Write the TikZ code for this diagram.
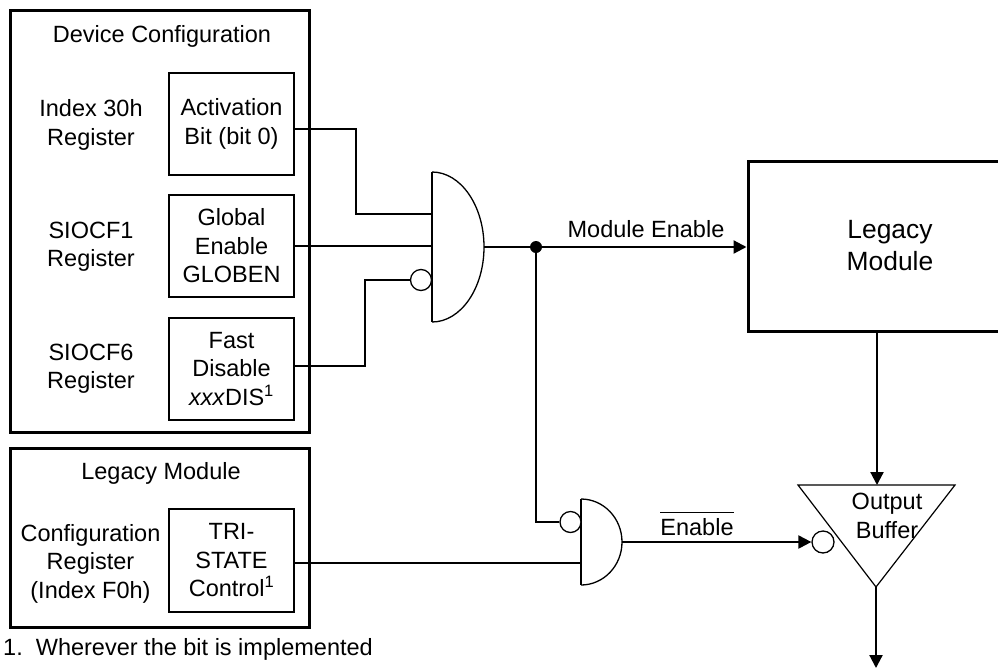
\documentclass[tikz,border=0pt]{standalone}
\usepackage{fontspec}
\setmainfont{Liberation Sans}
\usetikzlibrary{arrows.meta}
\begin{document}
\begin{tikzpicture}[x=1pt,y=-1pt,
  every node/.style={font=\fontsize{23.5}{28.5}\selectfont, inner sep=0pt, align=center},
  outerbox/.style={draw, line width=3pt},
  innerbox/.style={draw, line width=2pt},
  wire/.style={line width=2.2pt},
  gateline/.style={line width=1.3pt},
  gateedge/.style={line width=2.2pt},
  arr/.style={-{Triangle[length=13pt,width=13pt]}},
  bubble/.style={circle, draw, line width=1.3pt, minimum size=21pt, inner sep=0pt, fill=white},
  dotnode/.style={circle, fill, minimum size=12pt, inner sep=0pt},
]
\useasboundingbox (0,0) rectangle (998,670);
\clip (0,0) rectangle (998,670);

% Device configuration block
\node[outerbox, minimum width=299pt, minimum height=422pt] (devcfg) at (159.5,221) {};
\node (devtitle) at (162,36) {Device Configuration};
\node[innerbox, minimum width=125pt, minimum height=102pt] (act) at (231.5,124) {Activation\\Bit (bit 0)};
\node[innerbox, minimum width=125pt, minimum height=102pt] (glob) at (231.5,246) {Global\\Enable\\GLOBEN};
\node[innerbox, minimum width=125pt, minimum height=102pt] (fast) at (231.5,369) {Fast\\Disable\\\textit{xxx}DIS\textsuperscript{1}};
\node (lab1) at (91,125) {Index 30h\\Register};
\node (lab2) at (91,246.5) {SIOCF1\\Register};
\node (lab3) at (91,368.5) {SIOCF6\\Register};

% Legacy module config block
\node[outerbox, minimum width=299pt, minimum height=179pt] (legcfg) at (159.5,537.5) {};
\node (legtitle) at (161,473) {Legacy Module};
\node[innerbox, minimum width=125pt, minimum height=103pt] (tri) at (231.5,560.5) {TRI-\\STATE\\Control\textsuperscript{1}};
\node (lab4) at (90.5,563.5) {Configuration\\Register\\(Index F0h)};

% Legacy module (right)
\node[outerbox, minimum width=284pt, minimum height=170pt,
      font=\fontsize{26.4}{32}\selectfont] (leg) at (890,246) {Legacy\\Module};

% AND gate 1
\coordinate (g1t) at (432,172);
\coordinate (g1b) at (432,322);
\coordinate (g1o) at (484,247);
\draw[gateedge] (g1t) -- (g1b);
\draw[gateline] (g1t) .. controls (460.7,172) and (484,205.6) .. (g1o)
                      .. controls (484,288.4) and (460.7,322) .. (g1b);
\node[bubble] (b1) at (421,280) {};

% inputs of gate 1
\coordinate (j1) at (356,214);
\coordinate (j3) at (365,280);
\draw[wire] ([yshift=-5pt]act.east) -| (j1) -- (j1 -| g1t);
\draw[wire] (glob.east) -- (glob.east -| g1t);
\draw[wire] ([yshift=3pt]fast.east) -| (j3) -- (b1.west);

% module enable
\node[dotnode] (dot) at (536,247) {};
\draw[wire] (g1o) -- (dot);
\draw[wire,arr] (dot) -- (dot -| leg.west);
\node[anchor=base] (me) at (646,237) {Module Enable};

% AND gate 2
\coordinate (g2t) at (581,499);
\coordinate (g2b) at (581,585);
\coordinate (g2o) at (622,542);
\draw[gateedge] (g2t) -- (g2b);
\draw[gateline] (g2t) .. controls (603.6,499) and (622,518.3) .. (g2o)
                      .. controls (622,565.7) and (603.6,585) .. (g2b);
\node[bubble] (b2) at (570.5,522) {};
\draw[wire] (dot) |- (b2.west);
\draw[wire] ([yshift=-2.5pt]tri.east) -- ([yshift=-2.5pt]tri.east -| g2t);

% Output buffer
\coordinate (tl) at (798,485);
\coordinate (tr) at (955,485);
\coordinate (tap) at (876,587);
\coordinate (topin) at (877,485);
\coordinate (outend) at (876,668);
\node[bubble, minimum size=22pt] (b3) at (823,542) {};
\draw[line width=1.2pt] (tl) -- (tr) -- (tap) -- cycle;
\draw[wire,arr] (g2o) -- (b3.west);
\node[anchor=base] (en) at (697,535) {Enable};
\draw[line width=1.3pt] ([yshift=5pt]en.north west) -- ([yshift=5pt]en.north east);
\node (ob) at (887,516) {Output\\Buffer};
\draw[wire,arr] (leg.south -| topin) -- (topin);
\draw[wire,arr] (tap) -- (outend);

% footnote
\node[anchor=base west] (fn) at (3,655) {1.\ \ Wherever the bit is implemented};
\end{tikzpicture}
\end{document}
